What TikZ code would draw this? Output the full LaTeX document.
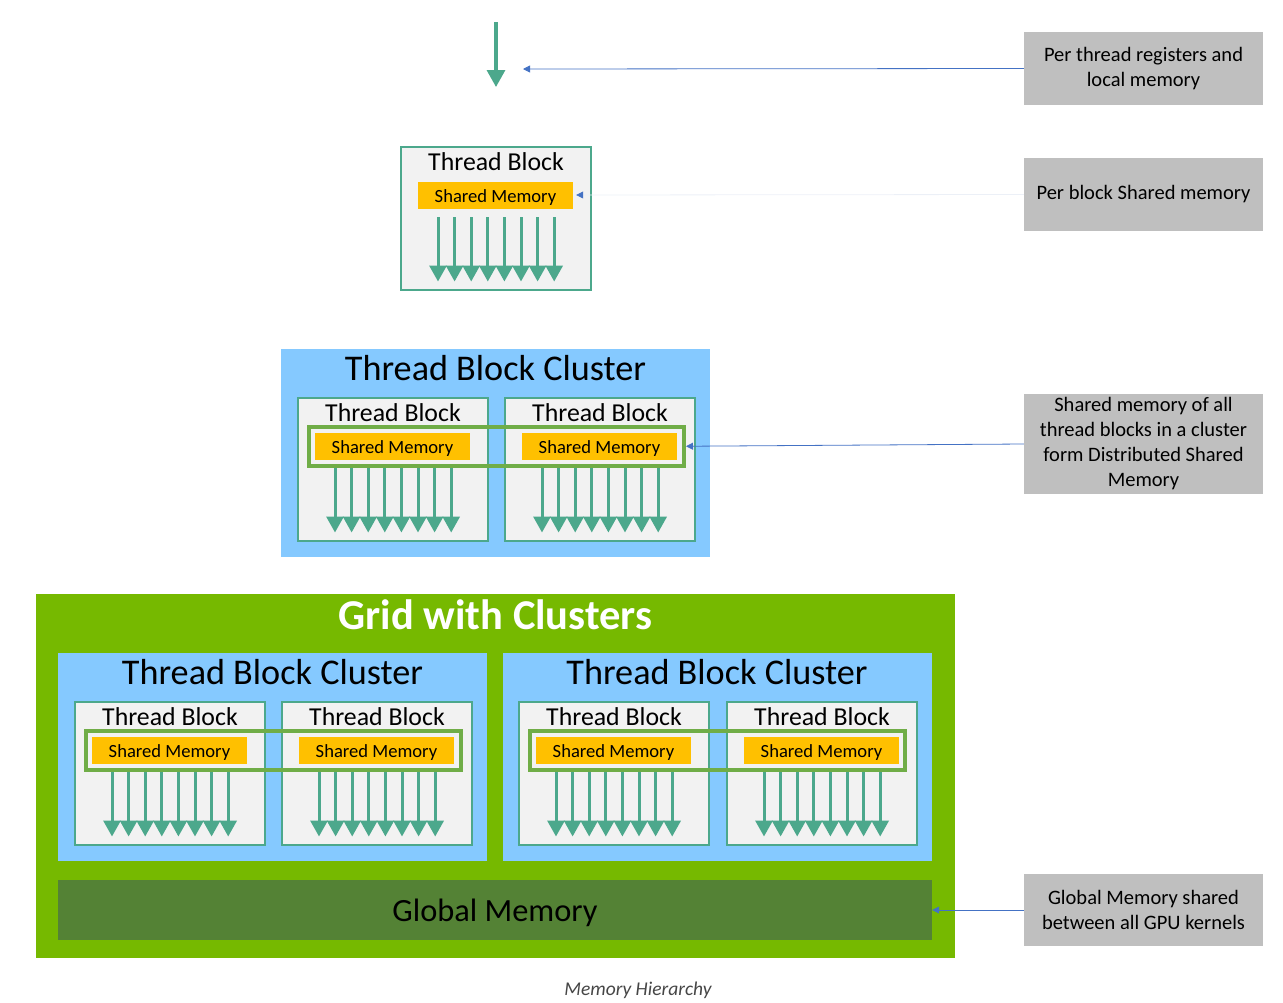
\documentclass[tikz,border=0pt]{standalone}
\usepackage{fontspec}
\setmainfont{Carlito}
\usetikzlibrary{arrows.meta}
\definecolor{tgreen}{RGB}{76,168,140}
\definecolor{blockgray}{RGB}{242,242,242}
\definecolor{smyellow}{RGB}{255,192,0}
\definecolor{clblue}{RGB}{133,201,255}
\definecolor{gridgreen}{RGB}{118,185,0}
\definecolor{dsmgreen}{RGB}{112,173,71}
\definecolor{globgreen}{RGB}{84,130,53}
\definecolor{notegray}{RGB}{191,191,191}
\definecolor{ptrblue}{RGB}{68,114,196}
\definecolor{ptrfaint}{RGB}{236,240,247}
\definecolor{capgray}{RGB}{70,70,70}

\begin{document}
\begin{tikzpicture}[x=1pt, y=-1pt,
  tblock/.style={draw=tgreen, line width=1.2pt, fill=blockgray, minimum width=190pt, minimum height=143pt, inner sep=0pt},
  tbtitle/.style={anchor=base, inner sep=0pt, font=\fontsize{25.8}{30}\selectfont},
  smem/.style={fill=smyellow, minimum width=155pt, minimum height=27pt, inner sep=0pt, text height=14pt, text depth=0pt, font=\fontsize{18.6}{22}\selectfont},
  thr/.style={tgreen, line width=3pt, -{Triangle[width=17pt,length=16pt]}},
  cluster/.style={fill=clblue, minimum width=429pt, minimum height=208pt, inner sep=0pt},
  cltitle/.style={anchor=base, inner sep=0pt, font=\fontsize{36.2}{40}\selectfont},
  dsm/.style={draw=dsmgreen, line width=4pt, minimum width=375pt, minimum height=38.5pt, inner sep=0pt},
  note/.style={fill=notegray, minimum width=239pt, inner sep=0pt, align=center, font=\fontsize{20.5}{25}\selectfont},
  pointer/.style={ptrblue, line width=0.8pt, -{Triangle[width=7pt,length=7pt]}}]
  \useasboundingbox (0,0) rectangle (1283,1002);

  % single thread
  \coordinate (thtop) at (496,22);
  \coordinate (thend) at (496,87);
  \draw[tgreen, line width=3.3pt, -{Triangle[width=18pt,length=17pt]}] (thtop) -- (thend);
  \coordinate (thtip) at (523,69);

  % grid and clusters
  \node[fill=gridgreen, minimum width=919pt, minimum height=364pt, inner sep=0pt] (grid) at (495.5,776) {};
  \node[anchor=base, inner sep=0pt, text=white, font=\bfseries\fontsize{42.5}{48}\selectfont] (gridt) at (495.5,629) {Grid with Clusters};
  \node[cluster] (cl1) at (495.5,453) {};
  \node[cltitle] (cl1t) at (495.5,380) {Thread Block Cluster};
  \node[cluster] (cll) at (272.5,757) {};
  \node[cltitle] (cllt) at (272.5,684) {Thread Block Cluster};
  \node[cluster] (clr) at (717,757) {};
  \node[cltitle] (clrt) at (717,684) {Thread Block Cluster};
  \node[fill=globgreen, minimum width=874pt, minimum height=60pt, inner sep=0pt] (glob) at (495,910) {};
  \node[anchor=base, inner sep=0pt, font=\fontsize{32.4}{36}\selectfont] (globt) at (495,921) {Global Memory};

  % thread blocks
  \foreach \bx/\by/\nm in {401/147/b0, 298/398/c1a, 505/398/c1b, 75/702/gla, 282/702/glb, 519/702/gra, 727/702/grb} {
    \node[tblock] (\nm) at ({\bx+95},{\by+71.5}) {};
    \node[tbtitle] (\nm-t) at ({\bx+95},{\by+23}) {Thread Block};
    \node[smem] (\nm-sm) at ({\bx+94.5},{\by+48}) {Shared Memory};
    \foreach \i in {0,...,7}
      \draw[thr] ({\bx+37+16.6*\i},{\by+70}) -- ({\bx+37+16.6*\i},{\by+134.5});
  }

  % distributed shared memory
  \node[dsm] (dsm1) at (496.5,446.25) {};
  \node[dsm] (dsml) at (273.5,750.25) {};
  \node[dsm] (dsmr) at (717.5,750.25) {};

  % notes
  \node[note, minimum height=73pt] (n1) at (1143.5,68.5) {Per thread registers and\\local memory};
  \node[note, minimum height=73pt] (n2) at (1143.5,194.5) {Per block Shared memory};
  \node[note, minimum height=100pt] (n3) at (1143.5,444) {Shared memory of all\\thread blocks in a cluster\\form Distributed Shared\\Memory};
  \node[note, minimum height=72pt] (n4) at (1143.5,910) {Global Memory shared\\between all GPU kernels};

  \draw[pointer] (n1.west) -- (thtip);
  \draw[ptrfaint, line width=0.8pt, -{Triangle[width=7pt,length=7pt,color=ptrblue]}] (n2.west) -- ([xshift=3pt]b0-sm.east);
  \draw[pointer] (n3.west) -- (dsm1.east);
  \draw[pointer] (n4.west) -- (glob.east);

  \node[text=capgray, font=\itshape\fontsize{19.5}{22}\selectfont] (cap) at (638,990) {Memory Hierarchy};
\end{tikzpicture}
\end{document}
